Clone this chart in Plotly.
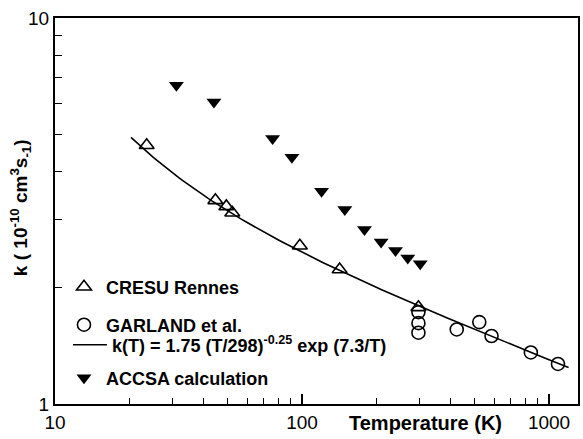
import numpy as np
import plotly.graph_objects as go

# CRESU Rennes (open triangles)
cresu_T = [23.5, 44.6, 49.4, 52.2, 98, 142, 296]
cresu_k = [4.68, 3.37, 3.25, 3.13, 2.57, 2.23, 1.78]
# GARLAND et al. (open circles)
garland_T = [296, 296, 296, 423, 522, 585, 844, 1087]
garland_k = [1.73, 1.62, 1.53, 1.56, 1.63, 1.50, 1.36, 1.27]
# ACCSA calculation (filled down triangles)
accsa_T = [31, 44, 76, 91, 120, 149, 179, 209, 239, 268, 301]
accsa_k = [6.70, 6.06, 4.87, 4.36, 3.56, 3.19, 2.83, 2.63, 2.50, 2.39, 2.31]
# fit k(T) = A (T/298)^n exp(B/T)
fit_A, fit_n, fit_B = 1.75, -0.25, 7.3
fit_Tmin, fit_Tmax = 20.3, 1200
fit_T = np.logspace(np.log10(fit_Tmin), np.log10(fit_Tmax), 120)
fit_k = fit_A * (fit_T / 298.0) ** fit_n * np.exp(fit_B / fit_T)

x_ticks = [10, 100, 1000]
x_ticklabels = ["10", "100", "1000"]
x_minor = [v * m for v in (10, 100) for m in range(2, 10)]
y_ticks = [1, 10]
y_ticklabels = ["1", "10"]
y_minor = list(range(2, 10))

FONT = "Liberation Sans, Arial, sans-serif"
X_RANGE = [1, np.log10(1310)]
Y_RANGE = [0, 1]

fig = go.Figure()
fig.add_trace(go.Scatter(
    x=cresu_T, y=cresu_k, mode="markers", name="CRESU Rennes", legend="legend",
    marker=dict(symbol="triangle-up-open", size=13, color="black", line=dict(width=1.6)),
))
fig.add_trace(go.Scatter(
    x=garland_T, y=garland_k, mode="markers", name="GARLAND et al.", legend="legend2",
    marker=dict(symbol="circle-open", size=13, color="black", line=dict(width=1.6)),
))
fig.add_trace(go.Scatter(
    x=fit_T, y=fit_k, mode="lines",
    name="k(T) = 1.75 (T/298)<sup>-0.25</sup> exp (7.3/T)", legend="legend3",
    line=dict(color="black", width=1.6),
))
fig.add_trace(go.Scatter(
    x=accsa_T, y=accsa_k, mode="markers", name="ACCSA calculation", legend="legend4",
    marker=dict(symbol="triangle-down", size=13, color="black"),
))

L, R, T, B = 55, 3, 18, 35
W, H = 583, 439
pw, ph = W - L - R, H - T - B

def px2paper_y(py):
    return (H - B - py) / ph

def px2paper_x(px):
    return (px - L) / pw

leg_common = dict(
    font=dict(family=FONT, size=18, color="black", weight="bold"),
    bgcolor="rgba(0,0,0,0)", borderwidth=0,
    xanchor="left", yanchor="middle",
    itemclick=False, itemdoubleclick=False, itemwidth=34,
)
fig.update_layout(
    width=W, height=H,
    margin=dict(l=L, r=R, t=T, b=B),
    plot_bgcolor="white", paper_bgcolor="white",
    showlegend=True,
    legend=dict(**leg_common, x=px2paper_x(62), y=px2paper_y(287)),
    legend2=dict(**leg_common, x=px2paper_x(62), y=px2paper_y(325)),
    legend3=dict(**leg_common, x=px2paper_x(68), y=px2paper_y(345)),
    legend4=dict(**leg_common, x=px2paper_x(62), y=px2paper_y(378)),
)
tick_style = dict(ticks="inside", ticklen=10, tickwidth=1.5, tickcolor="black",
                  showgrid=False, zeroline=False)
fig.update_layout(
    xaxis=dict(
        type="log", range=X_RANGE,
        tickmode="array", tickvals=x_ticks, ticktext=x_ticklabels,
        minor=dict(tickmode="array", tickvals=x_minor, ticks="inside", ticklen=6,
                   tickwidth=1.3, tickcolor="black", showgrid=False),
        showline=True, linecolor="black", linewidth=2, mirror=True,
        tickfont=dict(family=FONT, size=19, color="black"),
        **tick_style,
    ),
    xaxis2=dict(
        type="log", range=X_RANGE, overlaying="x", side="top", anchor="y",
        tickmode="array", tickvals=x_ticks, showticklabels=False,
        minor=dict(tickmode="array", tickvals=x_minor, ticks="inside", ticklen=6,
                   tickwidth=1.3, tickcolor="black", showgrid=False),
        showline=False,
        **tick_style,
    ),
    yaxis=dict(
        type="log", range=Y_RANGE,
        tickmode="array", tickvals=y_ticks, ticktext=y_ticklabels,
        minor=dict(tickmode="array", tickvals=y_minor, ticks="inside", ticklen=7,
                   tickwidth=1.3, tickcolor="black", showgrid=False),
        showline=True, linecolor="black", linewidth=2, mirror=True,
        tickfont=dict(family=FONT, size=19, color="black"),
        **tick_style,
    ),
    yaxis2=dict(
        type="log", range=Y_RANGE, overlaying="y", side="right", anchor="x",
        tickmode="array", tickvals=y_ticks, showticklabels=False,
        minor=dict(tickmode="array", tickvals=y_minor, ticks="inside", ticklen=7,
                   tickwidth=1.3, tickcolor="black", showgrid=False),
        showline=False,
        **tick_style,
    ),
)
fig.add_annotation(
    text="Temperature (K)", xref="paper", yref="paper",
    x=px2paper_x(427), y=px2paper_y(423), xanchor="center", yanchor="middle",
    showarrow=False, font=dict(family=FONT, size=20, color="black", weight="bold"),
)
fig.add_annotation(
    text="k ( 10<sup>-10</sup> cm<sup>3</sup>s<sub>-1</sub>)", xref="paper", yref="paper",
    x=px2paper_x(20), y=px2paper_y(208), xanchor="center", yanchor="middle",
    textangle=-90, showarrow=False,
    font=dict(family=FONT, size=19, color="black", weight="bold"),
)
fig.write_html("out.html")
